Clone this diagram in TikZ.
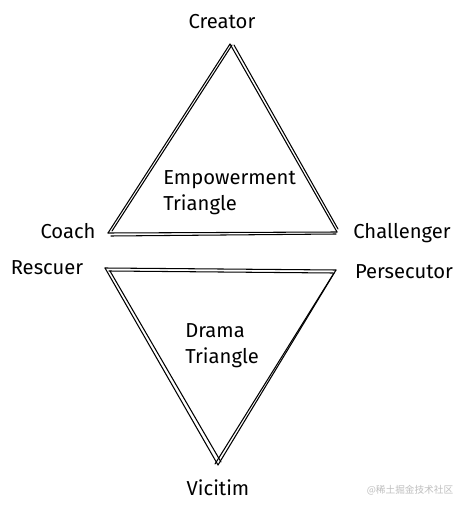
\documentclass[tikz,border=0pt]{standalone}
\usepackage{fontspec}
\setmainfont{Fira Sans}
\newfontfamily\cjk{Noto Sans CJK SC}

\tikzset{
    edge/.style={line width=0.6pt, line cap=round},
    lbl/.style={font=\fontsize{11.5}{13}\selectfont, inner sep=0pt},
}

\begin{document}
\begin{tikzpicture}[x=0.02cm, y=-0.02cm]
    \useasboundingbox[fill=white] (0, 0) rectangle (466, 509);

    % empowerment triangle
    \coordinate (cre) at (230, 44);
    \coordinate (coa) at (108, 233);
    \coordinate (cha) at (337, 232);

    \draw[edge] (cre) -- (coa);
    \draw[edge] ([shift={(2,1)}]cre) -- ([shift={(4,-2)}]coa);
    \draw[edge] (cre) -- (cha);
    \draw[edge] ([shift={(4,1)}]cre) -- ([shift={(1,-3)}]cha);
    \draw[edge] (coa) -- (cha);
    \draw[edge] ([shift={(3,3)}]coa) -- ([shift={(-1,2)}]cha);

    % drama triangle
    \coordinate (res) at (105, 268);
    \coordinate (per) at (336, 270);
    \coordinate (vic) at (218, 465);

    \draw[edge] (res) -- (per);
    \draw[edge] ([shift={(4,3)}]res) -- ([shift={(-3,3)}]per);
    \draw[edge] (res) -- (vic);
    \draw[edge] ([shift={(5,3)}]res) -- ([shift={(3,-3)}]vic);
    \draw[edge] (per) -- (vic);
    \draw[edge] ([shift={(-2,3)}]per) -- ([shift={(-3,-1)}]vic);

    \node[lbl] (creator) at (222, 22) {Creator};
    \node[lbl] (coach) at (68, 231) {Coach};
    \node[lbl] (challenger) at (402, 233) {Challenger};
    \node[lbl] (rescuer) at (47, 268) {Rescuer};
    \node[lbl] (persecutor) at (404, 272) {Persecutor};
    \node[lbl, anchor=west, align=left] (emp) at (163, 193) {Empowerment\\[2pt]Triangle};
    \node[lbl, anchor=west, align=left] (drama) at (185, 346) {Drama\\[2pt]Triangle};
    \node[lbl] (victim) at (218, 488) {Vicitim};

    \node[font=\cjk\fontsize{5.5}{6}\selectfont, text=black!25, inner sep=0pt] (mark) at (410, 490) {@稀土掘金技术社区};
\end{tikzpicture}
\end{document}
